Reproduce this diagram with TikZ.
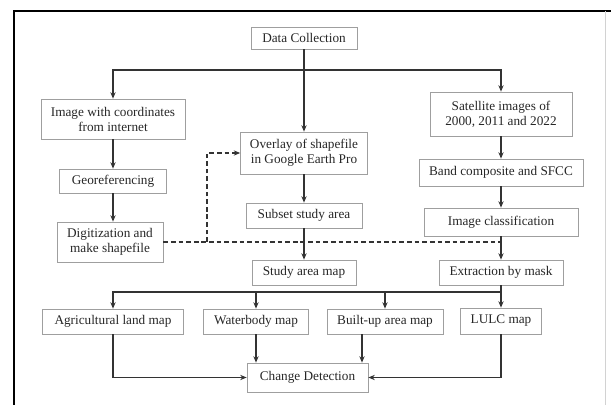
\documentclass[tikz,border=0pt]{standalone}
\usepackage{fontspec}
\setmainfont{Liberation Serif}
\usetikzlibrary{arrows.meta}
\tikzset{
  box/.style={draw=gray!75,line width=0.6pt,align=center,inner sep=1pt,
    text=black!85,font=\fontsize{11.3}{12.8}\selectfont},
  wd/.style={minimum width=#1*0.03cm},
  ht/.style={minimum height=#1*0.03cm},
  flow/.style={line width=1.3pt,draw=black!80},
  link/.style={flow,line width=1.1pt,dash pattern=on 4pt off 2.5pt}
}

\begin{document}
\begin{tikzpicture}[x=0.03cm,y=-0.03cm,>={Stealth[length=5.5pt,width=4.5pt]}]
\useasboundingbox (0,0) rectangle (611,405);
% ---------- frame ----------
\draw[line width=1.8pt] (14,405) -- (14,11) -- (611,11);
\draw[gray!35,line width=0.8pt] (605,11) -- (605,405);
% ---------- boxes ----------
\node[box,wd=106,ht=22] (dc) at (304,38) {Data Collection};
\node[box,wd=144,ht=40] (img) at (113,119) {Image with coordinates\\from internet};
\node[box,wd=107,ht=24] (geo) at (113,181) {Georeferencing};
\node[box,wd=106,ht=40] (dig) at (110,242) {Digitization and\\make shapefile};
\node[box,wd=127,ht=42] (ovl) at (304,153) {Overlay of shapefile\\in Google Earth Pro};
\node[box,wd=116,ht=25] (sub) at (304,215.5) {Subset study area};
\node[box,wd=104,ht=25] (std) at (304,272.5) {Study area map};
\node[box,wd=142,ht=44] (sat) at (501,114) {Satellite images of\\2000, 2011 and 2022};
\node[box,wd=164,ht=27] (band) at (501,172.5) {Band composite and SFCC};
\node[box,wd=154,ht=28] (cls) at (501,222) {Image classification};
\node[box,wd=124,ht=25] (ext) at (501,272.5) {Extraction by mask};
\node[box,wd=141,ht=25] (agr) at (113,321.5) {Agricultural land map};
\node[box,wd=105,ht=25] (wat) at (256,321.5) {Waterbody map};
\node[box,wd=116,ht=25] (blt) at (385,321.5) {Built-up area map};
\node[box,wd=81,ht=26] (lulc) at (501,321) {LULC map};
\node[box,wd=121,ht=29] (cd) at (307.5,377.5) {Change Detection};
% ---------- connectors ----------
\coordinate (top) at (304,70);
\coordinate (fork) at (207,242);
\coordinate (bus) at (501,292);
\coordinate (bx) at (362,350);
\draw[flow] (dc.south) -- (top);
\draw[flow,->] (top) -| (img.north);
\draw[flow,->] (top) -- (ovl.north);
\draw[flow,->] (top) -| (sat.north);
\draw[flow,->] (img) -- (geo);
\draw[flow,->] (geo.south) -- (geo.south |- dig.north);
\draw[flow,->] (ovl) -- (sub);
\draw[flow,->] (sub) -- (std);
\draw[flow,->] (sat) -- (band);
\draw[flow,->] (band) -- (cls);
\draw[flow,->] (cls) -- (ext);
\draw[link] (dig.east) -- (dig.east -| cls.south);
\draw[link,->] (fork) |- (ovl.west);
\draw[flow,->] (ext) -- (lulc);
\draw[flow,->] (bus) -| (agr.north);
\draw[flow,->] (bus) -| (wat.north);
\draw[flow,->] (bus) -| (blt.north);
\draw[flow,->] (agr.south) |- (cd.west);
\draw[flow,->] (wat.south) -- (wat.south |- cd.north);
\draw[flow,->] (blt.south -| bx) -- (cd.north -| bx);
\draw[flow,->] (lulc.south) |- (cd.east);
\end{tikzpicture}
\end{document}
